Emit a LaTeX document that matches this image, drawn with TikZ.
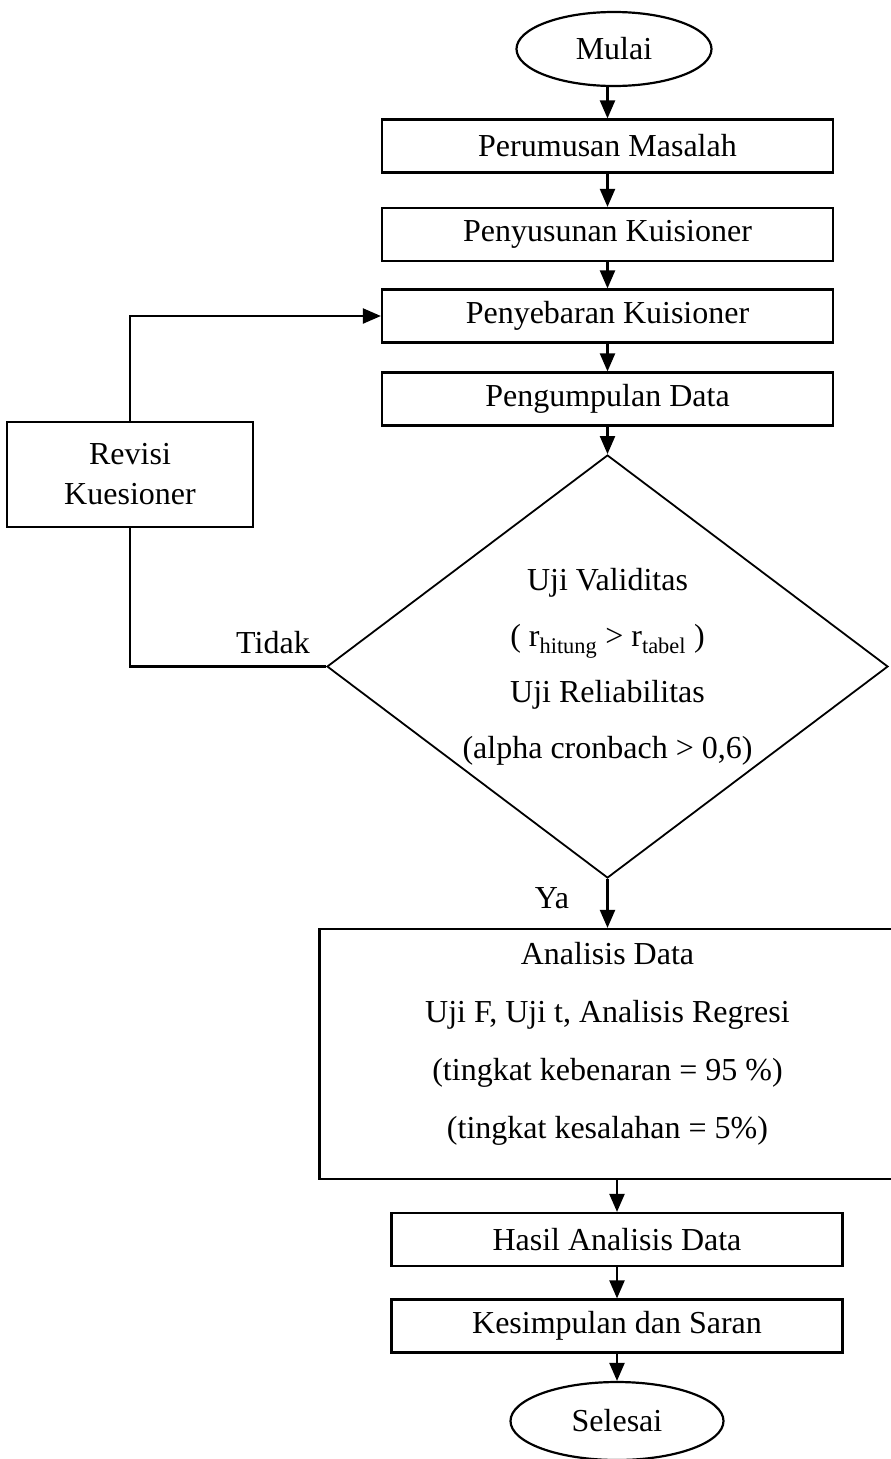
\documentclass[tikz,border=0pt]{standalone}
\usepackage{fontspec}
\setmainfont{Liberation Serif}
\usetikzlibrary{shapes.geometric}
\usetikzlibrary{arrows.meta}

\begin{document}
\begin{tikzpicture}[x=1pt, y=-1pt,
    every node/.style={font=\fontsize{32}{40}\selectfont},
    proses/.style={draw, line width=2.2pt, minimum width=451pt, minimum height=53pt, inner sep=0pt},
    terminal/.style={draw, ellipse, line width=2.2pt, inner sep=0pt},
    panah/.style={line width=2.2pt, -{Triangle[length=18pt, width=15pt]}},
    garis/.style={line width=2.2pt}]
    \useasboundingbox (0, 0) rectangle (891, 1459);

    \node[terminal, minimum width=195pt, minimum height=74pt] (mulai) at (614, 49) {Mulai};
    \node[proses] (rumus) at (607.5, 146) {Perumusan Masalah};
    \node[proses] (susun) at (607.5, 234.5) {Penyusunan Kuisioner};
    \node[proses] (sebar) at (607.5, 316) {Penyebaran Kuisioner};
    \node[proses] (kumpul) at (607.5, 399) {Pengumpulan Data};

    \node[draw, diamond, line width=1.8pt, minimum width=561pt, minimum height=423pt, inner sep=-100pt,
      align=center, font=\fontsize{32}{56}\selectfont] (uji) at (607.5, 666.5)
      {Uji Validitas\\( r\textsubscript{hitung} > r\textsubscript{tabel} )\\Uji Reliabilitas\\(alpha cronbach > 0,6)};

    \node[proses, minimum width=246pt, minimum height=105pt, align=center] (revisi) at (130, 474.5) {Revisi\\Kuesioner};

    \node[proses, minimum width=576pt, minimum height=250pt, align=center,
      font=\fontsize{32}{58}\selectfont] (analisis) at (607.5, 1054)
      {Analisis Data\\Uji F, Uji t, Analisis Regresi\\(tingkat kebenaran = 95 \%)\\(tingkat kesalahan = 5\%)\\[-30pt]\mbox{}};

    \node[proses] (hasil) at (617, 1239.5) {Hasil Analisis Data};
    \node[proses] (simpul) at (617, 1326) {Kesimpulan dan Saran};
    \node[terminal, minimum width=213pt, minimum height=78pt] (selesai) at (617, 1421) {Selesai};

    \node (tidak) at (273, 643) {Tidak};
    \node (ya) at (552, 898) {Ya};

    \draw[panah] (mulai.south -| rumus.north) -- (rumus);
    \draw[panah] (rumus) -- (susun);
    \draw[panah] (susun) -- (sebar);
    \draw[panah] (sebar) -- (kumpul);
    \draw[panah] (kumpul) -- (uji);
    \draw[panah] (uji) -- (analisis);
    \draw[panah] (hasil.north |- analisis.south) -- (hasil);
    \draw[panah] (hasil) -- (simpul);
    \draw[panah] (simpul) -- (selesai);

    \draw[garis] (uji.west) -| (revisi.south);
    \draw[panah] (revisi.north) |- (sebar.west);
\end{tikzpicture}
\end{document}
